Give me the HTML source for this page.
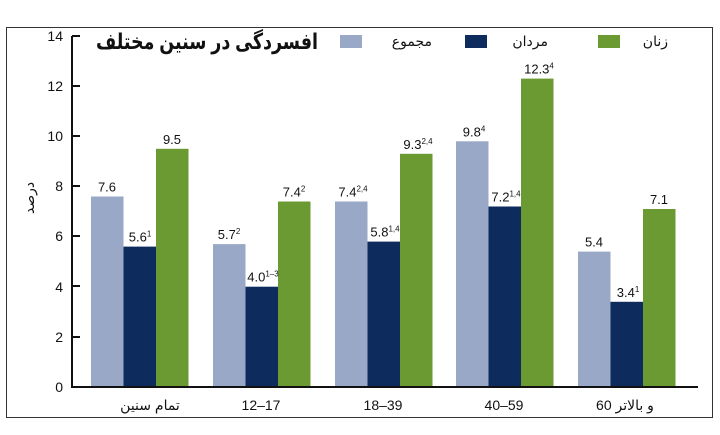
<!DOCTYPE html>
<html><head><meta charset="utf-8"><style>
body{margin:0;background:#fff}
</style></head><body>
<svg width="720" height="430" xmlns="http://www.w3.org/2000/svg" font-family="Liberation Sans, DejaVu Sans, sans-serif">
<rect x="0" y="0" width="720" height="430" fill="#fff"/>
<rect x="6.5" y="27.5" width="706" height="390" fill="none" stroke="#333" stroke-width="1"/>
<g>
<rect x="91" y="196.5" width="32.5" height="190.5" fill="#9aa8c7"/>
<rect x="123.5" y="246.6" width="32.5" height="140.4" fill="#0d2b5c"/>
<rect x="156" y="148.8" width="32.5" height="238.2" fill="#6b9a33"/>
<rect x="213" y="244.1" width="32.5" height="142.9" fill="#9aa8c7"/>
<rect x="245.5" y="286.7" width="32.5" height="100.3" fill="#0d2b5c"/>
<rect x="278" y="201.5" width="32.5" height="185.5" fill="#6b9a33"/>
<rect x="335" y="201.5" width="32.5" height="185.5" fill="#9aa8c7"/>
<rect x="367.5" y="241.6" width="32.5" height="145.4" fill="#0d2b5c"/>
<rect x="400" y="153.8" width="32.5" height="233.2" fill="#6b9a33"/>
<rect x="456" y="141.3" width="32.5" height="245.7" fill="#9aa8c7"/>
<rect x="488.5" y="206.5" width="32.5" height="180.5" fill="#0d2b5c"/>
<rect x="521" y="78.6" width="32.5" height="308.4" fill="#6b9a33"/>
<rect x="578" y="251.6" width="32.5" height="135.4" fill="#9aa8c7"/>
<rect x="610.5" y="301.8" width="32.5" height="85.2" fill="#0d2b5c"/>
<rect x="643" y="209" width="32.5" height="178" fill="#6b9a33"/>
</g>
<line x1="72" y1="36" x2="72" y2="388" stroke="#111" stroke-width="2"/>
<line x1="71" y1="387" x2="698" y2="387" stroke="#111" stroke-width="2"/>
<g font-size="14" fill="#111" text-anchor="end">
<text x="63" y="392">0</text><line x1="72" y1="387" x2="80" y2="387" stroke="#111" stroke-width="2"/>
<text x="63" y="342">2</text><line x1="72" y1="337" x2="80" y2="337" stroke="#111" stroke-width="2"/>
<text x="63" y="292">4</text><line x1="72" y1="286" x2="80" y2="286" stroke="#111" stroke-width="2"/>
<text x="63" y="241">6</text><line x1="72" y1="236" x2="80" y2="236" stroke="#111" stroke-width="2"/>
<text x="63" y="191">8</text><line x1="72" y1="186" x2="80" y2="186" stroke="#111" stroke-width="2"/>
<text x="63" y="141">10</text><line x1="72" y1="136" x2="80" y2="136" stroke="#111" stroke-width="2"/>
<text x="63" y="91">12</text><line x1="72" y1="86" x2="80" y2="86" stroke="#111" stroke-width="2"/>
<text x="63" y="41">14</text><line x1="72" y1="36" x2="80" y2="36" stroke="#111" stroke-width="2"/>
</g>
<text transform="translate(34,198) rotate(-90)" font-size="14" text-anchor="middle" fill="#111">درصد</text>
<text x="96" y="49" font-size="22" font-weight="bold" fill="#111" textLength="222" lengthAdjust="spacingAndGlyphs">افسردگی در سنین مختلف</text>
<rect x="340" y="35" width="22" height="13" fill="#9aa8c7"/>
<text x="432" y="46" font-size="14" text-anchor="end" fill="#111">مجموع</text>
<rect x="465" y="35" width="22" height="13" fill="#0d2b5c"/>
<text x="548" y="46" font-size="14" text-anchor="end" fill="#111">مردان</text>
<rect x="598" y="35" width="22" height="13" fill="#6b9a33"/>
<text x="668" y="46" font-size="14" text-anchor="end" fill="#111">زنان</text>
<g font-size="14" fill="#111" text-anchor="middle">
<text x="150" y="410">تمام سنین</text>
<text x="261" y="410">12–17</text>
<text x="383" y="410">18–39</text>
<text x="504" y="410">40–59</text>
<text x="625" y="410">60 و بالاتر</text>
</g>
<g font-size="13" fill="#111" text-anchor="middle">
<text x="107" y="191.5">7.6</text>
<text x="140" y="241.6">5.6<tspan font-size="8" dy="-5">1</tspan></text>
<text x="172" y="143.8">9.5</text>
<text x="229" y="239.1">5.7<tspan font-size="8" dy="-5">2</tspan></text>
<text x="263" y="281.7">4.0<tspan font-size="8" dy="-5">1–3</tspan></text>
<text x="294" y="196.5">7.4<tspan font-size="8" dy="-5">2</tspan></text>
<text x="353" y="196.5">7.4<tspan font-size="8" dy="-5">2,4</tspan></text>
<text x="385" y="236.6">5.8<tspan font-size="8" dy="-5">1,4</tspan></text>
<text x="418" y="148.8">9.3<tspan font-size="8" dy="-5">2,4</tspan></text>
<text x="474" y="136.3">9.8<tspan font-size="8" dy="-5">4</tspan></text>
<text x="506" y="201.5">7.2<tspan font-size="8" dy="-5">1,4</tspan></text>
<text x="539" y="73.6">12.3<tspan font-size="8" dy="-5">4</tspan></text>
<text x="594" y="246.6">5.4</text>
<text x="628" y="296.8">3.4<tspan font-size="8" dy="-5">1</tspan></text>
<text x="659" y="204">7.1</text>
</g>
</svg>
</body></html>
